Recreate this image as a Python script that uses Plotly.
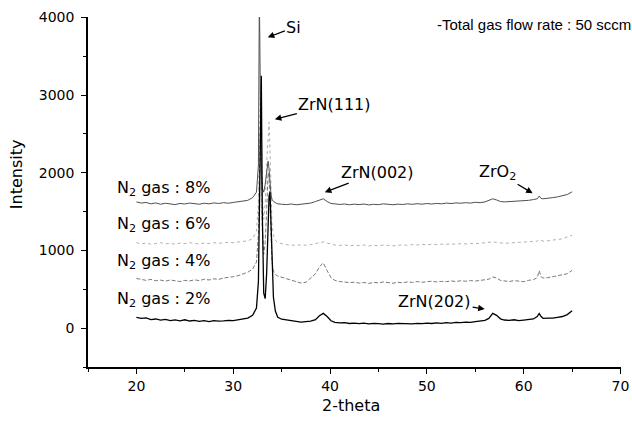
import plotly.graph_objects as go

two_theta = [20.0, 20.5, 21.0, 21.5, 22.0, 22.5, 23.0, 23.5, 24.0, 24.5, 25.0, 25.5, 26.0, 26.5, 27.0,
             27.5, 28.0, 28.5, 29.0, 29.5, 30.0, 30.5, 31.0, 31.5, 32.0,
             32.4, 32.6, 32.7, 32.8, 32.9, 33.0, 33.15, 33.3, 33.45, 33.6, 33.7, 33.8, 33.9, 34.0,
             34.15, 34.35, 34.6, 35.0,
             35.5, 36.0, 36.5, 37.0, 37.5, 38.0, 38.5, 38.9, 39.3, 39.7, 40.1,
             40.5, 41.0, 41.5, 42.0, 42.5, 43.0, 43.5, 44.0, 44.5, 45.0, 45.5, 46.0, 46.5, 47.0, 47.5,
             48.0, 48.5, 49.0, 49.5, 50.0, 50.5, 51.0, 51.5, 52.0, 52.5, 53.0, 53.5, 54.0, 54.5, 55.0,
             55.5, 56.0,
             56.4, 56.8, 57.2, 57.6, 58.0,
             58.5, 59.0, 59.5, 60.0, 60.5, 61.0,
             61.4, 61.6, 61.8, 62.0,
             62.5, 63.0, 63.5, 64.0, 64.5, 65.0]

i_2pct = [140, 125, 132, 110, 118, 104, 112, 98, 106, 95, 108, 92, 100, 88, 96, 85, 98, 90, 94, 100,
          96, 108, 115, 130, 165,
          260, 600, 1400, 2800, 3250, 1500, 450, 380, 700, 1300, 1700, 1750, 1300, 750,
          400, 220, 140, 115,
          105, 90, 82, 78, 85, 90, 110, 160, 190, 150, 95,
          75, 68, 72, 60, 66, 58, 64, 55, 62, 58, 52, 60, 55, 62, 57, 60, 54, 62, 58, 65,
          60, 68, 62, 70, 66, 74, 70, 78, 75, 85, 90, 100,
          125, 190, 165, 120, 105,
          100, 108, 98, 104, 110, 118,
          150, 190, 150, 125,
          130, 128, 140, 150, 175, 225]

i_4pct = [640, 625, 615, 628, 610, 618, 605, 620, 612, 600, 615, 608, 622, 612, 630, 620, 635, 628, 645, 650,
          662, 675, 700, 720, 760,
          850, 1200, 1900, 2600, 2200, 1300, 950, 1100, 1500, 2000, 1950, 1500, 1100, 850,
          740, 690, 670, 655,
          630, 615, 595, 580, 590, 640, 700, 790, 840, 740, 650,
          615, 600, 595, 585, 592, 580, 588, 575, 590, 582, 595, 585, 578, 590, 584, 596, 588, 600, 590, 598,
          604, 595, 602, 598, 608, 600, 610, 604, 612, 606, 615, 625,
          630, 660, 645, 615, 605,
          600, 612, 605, 598, 615, 625,
          650, 740, 660, 645,
          650, 662, 668, 680, 700, 745]

i_6pct = [1100, 1085, 1095, 1080, 1090, 1100, 1085, 1092, 1080, 1095, 1088, 1100, 1090, 1085, 1095,
          1090, 1100, 1092, 1098, 1105, 1100, 1110, 1115, 1125, 1150,
          1250, 1600, 2400, 3100, 2600, 1700, 1400, 1600, 2100, 2500, 2650, 2300, 1700, 1350,
          1200, 1130, 1100, 1085,
          1075, 1070, 1065, 1072, 1068, 1075, 1085, 1100, 1110, 1095, 1080,
          1070, 1065, 1072, 1060, 1068, 1062, 1070, 1058, 1066, 1062, 1070, 1065, 1060, 1068, 1072,
          1066, 1075, 1070, 1078, 1072, 1080, 1075, 1082, 1078, 1085, 1080, 1088, 1084, 1090, 1086,
          1092, 1095,
          1100, 1110, 1105, 1095, 1092,
          1095, 1100, 1098, 1105, 1110, 1115,
          1120, 1140, 1125, 1120,
          1125, 1135, 1140, 1150, 1175, 1195]

i_8pct = [1625, 1610, 1618, 1600, 1612, 1595, 1608, 1600, 1590, 1605, 1598, 1610, 1602, 1595, 1608,
          1600, 1612, 1605, 1615, 1608, 1618, 1625, 1632, 1645, 1680,
          1750, 2100, 4300, 3000, 2000, 1800, 1750, 1850, 2050, 2150, 2050, 1850, 1720, 1660,
          1630, 1615, 1600, 1595,
          1590, 1598, 1588, 1595, 1600, 1610, 1630, 1650, 1665, 1630, 1605,
          1600, 1592, 1598, 1588, 1596, 1590, 1598, 1586, 1594, 1590, 1600, 1592, 1588, 1596, 1592,
          1600, 1594, 1602, 1596, 1604, 1598, 1606, 1600, 1610, 1604, 1612, 1608, 1615, 1610, 1620,
          1615, 1625,
          1640, 1665, 1650, 1630, 1625,
          1628, 1635, 1630, 1640, 1645, 1655,
          1665, 1700, 1670, 1665,
          1670, 1680, 1690, 1705, 1720, 1755]

series_labels = ["N<sub>2</sub> gas : 8%", "N<sub>2</sub> gas : 6%",
                 "N<sub>2</sub> gas : 4%", "N<sub>2</sub> gas : 2%"]
label_y = [1801, 1338, 863, 374]

FONT = "DejaVu Sans"

fig = go.Figure()
fig.add_trace(go.Scatter(x=two_theta, y=i_6pct, mode="lines",
                         line=dict(color="#b0b0b0", width=1, dash="dot")))
fig.add_trace(go.Scatter(x=two_theta, y=i_4pct, mode="lines",
                         line=dict(color="#7a7a7a", width=1, dash="4px,2px")))
fig.add_trace(go.Scatter(x=two_theta, y=i_8pct, mode="lines",
                         line=dict(color="#505050", width=1)))
fig.add_trace(go.Scatter(x=two_theta, y=i_2pct, mode="lines",
                         line=dict(color="#000000", width=1.3)))

annotations = []
for lab, yy in zip(series_labels, label_y):
    annotations.append(dict(x=17.79, y=yy, text=lab, showarrow=False, xanchor="left", yanchor="middle",
                            font=dict(family=FONT, size=16, color="black")))

arrow_style = dict(showarrow=True, arrowhead=2, arrowsize=1, arrowwidth=1.3, arrowcolor="black",
                   font=dict(family=FONT, size=16, color="black"))
annotations += [
    dict(x=33.57, y=3743, text="Si", ax=26, ay=-10, **arrow_style),
    dict(x=34.30, y=2689, text="ZrN(111)", ax=60, ay=-15, **arrow_style),
    dict(x=39.46, y=1750, text="ZrN(002)", ax=53, ay=-20, **arrow_style),
    dict(x=60.92, y=1737, text="ZrO<sub>2</sub>", ax=-35, ay=-21, **arrow_style),
    dict(x=55.97, y=246, text="ZrN(202)", ax=-50, ay=-8, **arrow_style),
    dict(x=50.81, y=3905, text="-Total gas flow rate : 50 sccm", showarrow=False,
         xanchor="left", yanchor="middle",
         font=dict(family="Liberation Sans, Arial", size=15, color="black")),
    dict(xref="paper", yref="paper", x=-0.135, y=0.551, text="Intensity", textangle=-90,
         showarrow=False, xanchor="center", yanchor="middle",
         font=dict(family=FONT, size=16, color="black")),
    dict(xref="paper", yref="paper", x=0.493, y=-0.111, text="2-theta",
         showarrow=False, xanchor="center", yanchor="middle",
         font=dict(family=FONT, size=16, color="black")),
]

axis_common = dict(showline=True, linecolor="black", linewidth=1.5, showgrid=False, zeroline=False,
                   ticks="outside", ticklen=5, tickwidth=1.3, tickcolor="black", automargin=False,
                   tickfont=dict(family=FONT, size=14, color="black"))

fig.update_layout(
    width=632, height=422,
    margin=dict(l=88, r=11, t=17, b=55, autoexpand=False),
    paper_bgcolor="white", plot_bgcolor="white",
    showlegend=False,
    annotations=annotations,
    xaxis=dict(range=[15, 70.05], tickmode="linear", tick0=10, dtick=10,
               minor=dict(dtick=5, tick0=15, ticks="outside", ticklen=3, tickcolor="black"),
               **axis_common),
    yaxis=dict(range=[-500, 4005], tickmode="linear", tick0=0, dtick=1000, ticklabelstandoff=4,
               minor=dict(dtick=500, tick0=-500, ticks="outside", ticklen=3, tickcolor="black"),
               **axis_common),
)

fig.write_html("out.html")
